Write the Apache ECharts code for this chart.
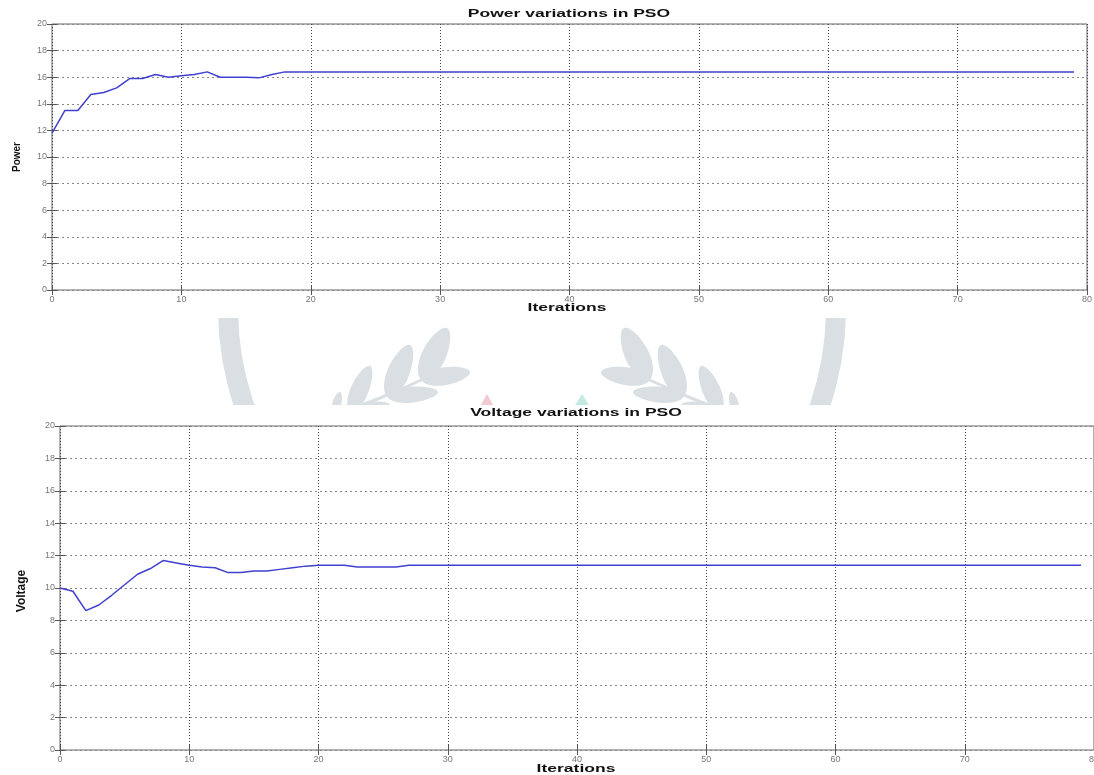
<!DOCTYPE html>
<html>
<head>
<meta charset="utf-8">
<script src="https://cdn.jsdelivr.net/npm/echarts@6/dist/echarts.min.js"></script>
<style>
  html, body { margin: 0; padding: 0; background: #fff; }
  #chart { width: 1094px; height: 775px; }
</style>
</head>
<body>
<div id="chart"></div>
<script>
// Best power of the swarm at each iteration (index = iteration number)
const powerValues = [
  11.8, 13.5, 13.5, 14.7, 14.85, 15.2, 15.9, 15.9, 16.2, 16.0,
  16.1, 16.2, 16.4, 16.0, 16.0, 16.0, 15.95, 16.2, 16.4, 16.4,
  16.4, 16.4, 16.4, 16.4, 16.4, 16.4, 16.4, 16.4, 16.4, 16.4,
  16.4, 16.4, 16.4, 16.4, 16.4, 16.4, 16.4, 16.4, 16.4, 16.4,
  16.4, 16.4, 16.4, 16.4, 16.4, 16.4, 16.4, 16.4, 16.4, 16.4,
  16.4, 16.4, 16.4, 16.4, 16.4, 16.4, 16.4, 16.4, 16.4, 16.4,
  16.4, 16.4, 16.4, 16.4, 16.4, 16.4, 16.4, 16.4, 16.4, 16.4,
  16.4, 16.4, 16.4, 16.4, 16.4, 16.4, 16.4, 16.4, 16.4, 16.4
];

// Operating voltage at each iteration
const voltageValues = [
  10.0, 9.8, 8.6, 8.95, 9.55, 10.2, 10.85, 11.2, 11.7, 11.55,
  11.4, 11.3, 11.25, 10.95, 10.95, 11.05, 11.05, 11.15, 11.25, 11.35,
  11.4, 11.4, 11.4, 11.3, 11.3, 11.3, 11.3, 11.4, 11.4, 11.4,
  11.4, 11.4, 11.4, 11.4, 11.4, 11.4, 11.4, 11.4, 11.4, 11.4,
  11.4, 11.4, 11.4, 11.4, 11.4, 11.4, 11.4, 11.4, 11.4, 11.4,
  11.4, 11.4, 11.4, 11.4, 11.4, 11.4, 11.4, 11.4, 11.4, 11.4,
  11.4, 11.4, 11.4, 11.4, 11.4, 11.4, 11.4, 11.4, 11.4, 11.4,
  11.4, 11.4, 11.4, 11.4, 11.4, 11.4, 11.4, 11.4, 11.4, 11.4
];

const panelTitles = ['Power variations in PSO', 'Voltage variations in PSO'];
const yAxisNames = ['Power', 'Voltage'];
const xAxisName = 'Iterations';
const xTicks = { min: 0, max: 80, step: 10 };
const yTicks = { min: 0, max: 20, step: 2 };

const FONT = '"Liberation Sans", Arial, sans-serif';
const LINE_COLOR = '#4040d0';

const grids = [
  { left: 52, top: 24, width: 1035, height: 266 },
  { left: 60, top: 426, width: 1034, height: 324 }
];

const xAxes = [];
const yAxes = [];
grids.forEach((g, i) => {
  xAxes.push({
    gridIndex: i, type: 'value', min: xTicks.min, max: xTicks.max, interval: xTicks.step,
    axisLine: { show: false },
    axisTick: { inside: true, length: 5, lineStyle: { color: '#555' } },
    axisLabel: { fontSize: 9, color: '#777', margin: 5, fontFamily: FONT },
    splitLine: { show: true, lineStyle: { color: '#444', type: [1, 2], width: 1 } }
  });
  xAxes.push({
    gridIndex: i, type: 'value', position: 'top', min: xTicks.min, max: xTicks.max, interval: xTicks.step,
    axisLine: { show: false },
    axisTick: { inside: true, length: 5, lineStyle: { color: '#555' } },
    axisLabel: { show: false }, splitLine: { show: false }
  });
  yAxes.push({
    gridIndex: i, type: 'value', min: yTicks.min, max: yTicks.max, interval: yTicks.step,
    axisLine: { show: false },
    axisTick: { inside: true, length: 5, lineStyle: { color: '#555' } },
    axisLabel: { fontSize: 9, color: '#777', margin: 5, fontFamily: FONT },
    splitLine: { show: true, lineStyle: { color: '#888', type: [2, 3], width: 1 } }
  });
  yAxes.push({
    gridIndex: i, type: 'value', position: 'right', min: yTicks.min, max: yTicks.max, interval: yTicks.step,
    axisLine: { show: false },
    axisTick: { inside: true, length: 5, lineStyle: { color: '#555' } },
    axisLabel: { show: false }, splitLine: { show: false }
  });
});

const seriesData = [powerValues, voltageValues];
const series = seriesData.map((vals, i) => ({
  type: 'line',
  xAxisIndex: i * 2,
  yAxisIndex: i * 2,
  data: vals.map((v, k) => [k, v]),
  showSymbol: false,
  lineStyle: { color: LINE_COLOR, width: 1.5 },
  z: 5
}));

// Text helpers: headings are drawn wide, like the exported figure lettering
function wideText(text, x, y, size) {
  return {
    type: 'text', x: x, y: y, scaleX: 1.75, z: 20,
    style: {
      text: text, font: 'bold ' + size + 'px ' + FONT, fill: '#111',
      textAlign: 'center', textVerticalAlign: 'middle', align: 'center', verticalAlign: 'middle'
    }
  };
}
function sideText(text, x, y, size) {
  return {
    type: 'text', x: x, y: y, rotation: Math.PI / 2, z: 20,
    style: {
      text: text, font: 'bold ' + size + 'px ' + FONT, fill: '#111',
      textAlign: 'center', textVerticalAlign: 'middle', align: 'center', verticalAlign: 'middle'
    }
  };
}

// Faint emblem behind the gap between the two panels
const EMBLEM = '#d9dfe3';
function petal(bx, by, tx, ty, w) {
  const dx = tx - bx, dy = ty - by;
  const len = Math.sqrt(dx * dx + dy * dy);
  const nx = -dy / len * w / 2, ny = dx / len * w / 2;
  const ax = bx + dx * 0.45, ay = by + dy * 0.45;
  return {
    type: 'polygon', z: -20, silent: true,
    shape: { points: [[bx, by], [ax + nx, ay + ny], [tx, ty], [ax - nx, ay - ny]], smooth: 0.5 },
    style: { fill: EMBLEM }
  };
}
const leftPetals = [
  [422, 380, 447, 328, 24], [422, 380, 470, 372, 18],
  [388, 397, 410, 345, 22], [388, 397, 438, 392, 16],
  [350, 412, 370, 366, 18], [350, 412, 390, 405, 13],
  [334, 414, 340, 392, 9]
];
const emblem = [];
leftPetals.forEach(p => {
  emblem.push(petal(p[0], p[1], p[2], p[3], p[4]));
  emblem.push(petal(1071 - p[0], p[1], 1071 - p[2], p[3], p[4]));
});
emblem.push({ type: 'polyline', z: -20, silent: true, shape: { points: [[336, 414], [380, 398], [430, 376]], smooth: 0.4 }, style: { stroke: EMBLEM, lineWidth: 3, fill: null } });
emblem.push({ type: 'polyline', z: -20, silent: true, shape: { points: [[735, 414], [691, 398], [641, 376]], smooth: 0.4 }, style: { stroke: EMBLEM, lineWidth: 3, fill: null } });
emblem.push({ type: 'sector', z: -20, silent: true, shape: { cx: 532, cy: 308, r0: 294, r: 314, startAngle: 2.6, endAngle: 3.2 }, style: { fill: EMBLEM } });
emblem.push({ type: 'sector', z: -20, silent: true, shape: { cx: 532, cy: 308, r0: 294, r: 314, startAngle: -0.05, endAngle: 0.55 }, style: { fill: EMBLEM } });
emblem.push({ type: 'polygon', z: -20, silent: true, shape: { points: [[478, 410], [487, 394], [496, 410]] }, style: { fill: '#f2c9d1' } });
emblem.push({ type: 'polygon', z: -20, silent: true, shape: { points: [[572, 410], [582, 394], [592, 410]] }, style: { fill: '#c4e9e2' } });
// the two figure panels sit on white over the emblem
emblem.push({ type: 'rect', z: -10, silent: true, shape: { x: 0, y: 0, width: 1094, height: 318 }, style: { fill: '#fff' } });
emblem.push({ type: 'rect', z: -10, silent: true, shape: { x: 0, y: 405, width: 1094, height: 370 }, style: { fill: '#fff' } });

const labels = [
  wideText(panelTitles[0], 569, 14, 10),
  wideText(xAxisName, 567, 308, 10),
  sideText(yAxisNames[0], 17, 157, 10),
  wideText(panelTitles[1], 576, 413, 10),
  wideText(xAxisName, 576, 769, 10),
  sideText(yAxisNames[1], 22, 591, 12)
];

const chart = echarts.init(document.getElementById('chart'), null, { renderer: 'canvas' });
chart.setOption({
  animation: false,
  backgroundColor: '#fff',
  grid: grids.map(g => Object.assign({
    show: true, borderColor: '#666', borderWidth: 1, backgroundColor: '#fff',
    containLabel: false, outerBoundsMode: 'none'
  }, g)),
  xAxis: xAxes,
  yAxis: yAxes,
  series: series,
  graphic: { elements: emblem.concat(labels) }
});
</script>
</body>
</html>
